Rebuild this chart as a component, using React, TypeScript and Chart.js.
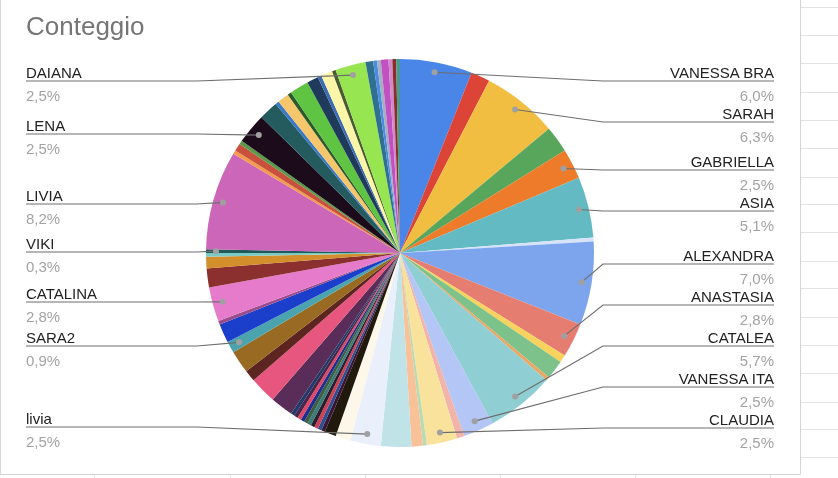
import React, { useEffect, useRef } from "react";
import { Chart, registerables } from "chart.js";

Chart.register(...registerables);

// ---- data ----
const TITLE = "Conteggio";

const NAMES = [
  "VANESSA BRA", "n2", "SARAH", "n4", "GABRIELLA", "ASIA", "n7", "ALEXANDRA", "ANASTASIA", "n10",
  "n11", "n12", "CATALEA", "VANESSA ITA", "n15", "CLAUDIA", "n17", "n18", "n19", "livia",
  "n21", "n22", "n23", "n24", "n25", "n26", "n27", "n28", "n29", "n30",
  "n31", "n32", "n33", "n34", "n35", "n36", "SARA2", "n38", "n39", "CATALINA",
  "n41", "n42", "n43", "VIKI", "LIVIA", "n46", "n47", "n48", "LENA", "n50",
  "n51", "n52", "n53", "n54", "n55", "n56", "n57", "n58", "DAIANA", "n60",
  "n61", "n62", "n63", "n64", "n65", "n66",
];

const COUNTS = [
  19, 5, 20, 7, 8, 16, 1, 22, 9, 2,
  5, 1, 18, 8, 2, 8, 1, 3, 8, 8,
  4, 3, 1, 1, 1, 1, 1, 1, 1, 1,
  1, 1, 6, 7, 3, 6, 3, 5, 1, 9,
  5, 3, 1, 1, 26, 1, 2, 1, 8, 5,
  1, 3, 1, 5, 3, 1, 3, 1, 8, 2,
  1, 1, 2, 1, 1, 1,
];

const COLORS = [
  "#4a86e8", "#db4437", "#f1be42", "#58a55c", "#ee7b2a", "#63bac3", "#d6e3f8", "#7da5ee", "#e57e70", "#f7d35e",
  "#7cc28a", "#e9a866", "#8fcfd3", "#b3c6f5", "#f2b3aa", "#f9e29c", "#b7dcb1", "#f8c198", "#bfe3e6", "#e9effb",
  "#fcf7e8", "#20190c", "#3b1736", "#2c4f90", "#cf4057", "#2b1c2e", "#3d7b78", "#3b5f3f", "#1d2f8e", "#e0486a",
  "#4a2349", "#203a6a", "#5a2c58", "#e6567e", "#5c2520", "#996b22", "#4ba3ae", "#1b3fcb", "#9b4c8c", "#e67bcc",
  "#8b302f", "#d28f2b", "#7ccac6", "#1f5959", "#cc66b9", "#f39b4c", "#c9503c", "#5a9a4a", "#1b0b1b", "#245b5f",
  "#3b79c9", "#f5c66b", "#2b5b2b", "#5fc441", "#1f3a5b", "#3b6bb1", "#fbf5a9", "#4b5b31", "#97e651", "#2f6f8f",
  "#4b8be1", "#a1b1c1", "#c151c1", "#d189c9", "#8b2b2b", "#4b9b8b",
];

// ---- layout of the labels (not data) ----
const LEFT_LABELS = ["DAIANA", "LENA", "LIVIA", "VIKI", "CATALINA", "SARA2", "livia"];
const LEFT_LINE_Y = [81, 134, 204, 252, 302, 346, 427];
const RIGHT_LABELS = ["VANESSA BRA", "SARAH", "GABRIELLA", "ASIA", "ALEXANDRA", "ANASTASIA", "CATALEA", "VANESSA ITA", "CLAUDIA"];
const RIGHT_LINE_Y = [81, 122, 170, 211, 264, 305, 346, 387, 428];

const W = 838;
const H = 478;
const LEFT_X = 26;
const RIGHT_X = 774;
const LEFT_ELBOW = 197;
const RIGHT_ELBOW = 603;

const GRID_ROWS = [7, 35, 63, 92, 120, 148, 177, 204, 232, 261, 288, 317, 345, 373, 402, 429, 457];
const GRID_COLS = [94, 230, 365, 500, 635, 770];

const TOTAL = COUNTS.reduce((a, b) => a + b, 0);
const pct = (name: string) => {
  const v = COUNTS[NAMES.indexOf(name)];
  return ((v / TOTAL) * 100).toFixed(1).replace(".", ",") + "%";
};

const bgPlugin = {
  id: "bgPlugin",
  beforeDraw(chart: any) {
    const ctx = chart.ctx;
    ctx.save();
    ctx.fillStyle = "#ffffff";
    ctx.fillRect(0, 0, W, H);
    ctx.strokeStyle = "#e2e2e2";
    ctx.lineWidth = 1;
    for (const y of GRID_ROWS) {
      ctx.beginPath();
      ctx.moveTo(800, y + 0.5);
      ctx.lineTo(W, y + 0.5);
      ctx.stroke();
    }
    for (const x of GRID_COLS) {
      ctx.beginPath();
      ctx.moveTo(x + 0.5, 474);
      ctx.lineTo(x + 0.5, H);
      ctx.stroke();
    }
    ctx.strokeStyle = "#d4d4d4";
    ctx.beginPath();
    ctx.moveTo(0.5, 0);
    ctx.lineTo(0.5, 474.5);
    ctx.lineTo(800.5, 474.5);
    ctx.lineTo(800.5, 0);
    ctx.stroke();
    ctx.restore();
  },
};

const leaderPlugin = {
  id: "leaderPlugin",
  afterDatasetsDraw(chart: any) {
    const ctx = chart.ctx;
    const meta = chart.getDatasetMeta(0);
    const draw = (name: string, lineY: number, right: boolean) => {
      const i = NAMES.indexOf(name);
      const arc = meta.data[i];
      const p = arc.getProps(["x", "y", "startAngle", "endAngle", "outerRadius"], true);
      const mid = (p.startAngle + p.endAngle) / 2;
      const r = p.outerRadius - 10;
      const dx = p.x + Math.cos(mid) * r;
      const dy = p.y + Math.sin(mid) * r;
      ctx.save();
      ctx.strokeStyle = "#6e6e6e";
      ctx.lineWidth = 1.2;
      ctx.beginPath();
      ctx.moveTo(dx, dy);
      if (right) {
        ctx.lineTo(RIGHT_ELBOW, lineY);
        ctx.lineTo(RIGHT_X, lineY);
      } else {
        ctx.lineTo(LEFT_ELBOW, lineY);
        ctx.lineTo(LEFT_X, lineY);
      }
      ctx.stroke();
      ctx.fillStyle = "#a0a0a0";
      ctx.beginPath();
      ctx.arc(dx, dy, 3, 0, Math.PI * 2);
      ctx.fill();
      ctx.restore();
    };
    LEFT_LABELS.forEach((n, k) => draw(n, LEFT_LINE_Y[k], false));
    RIGHT_LABELS.forEach((n, k) => draw(n, RIGHT_LINE_Y[k], true));
  },
};

const FONT = '"Liberation Sans", Arial, sans-serif';
// baseline offset for 15px text with line-height 15px
const BASE = 12.7;

export default function App() {
  const ref = useRef<HTMLCanvasElement | null>(null);

  useEffect(() => {
    document.body.style.margin = "0";
    if (!ref.current) return;
    const chart = new Chart(ref.current, {
      type: "pie",
      data: {
        labels: NAMES,
        datasets: [
          {
            data: COUNTS,
            backgroundColor: COLORS,
            borderWidth: 0,
          },
        ],
      },
      options: {
        responsive: false,
        animation: false,
        devicePixelRatio: 1,
        layout: { padding: { left: 206, right: 244, top: 59, bottom: 31 } },
        plugins: {
          legend: { display: false },
          tooltip: { enabled: false },
          title: { display: false },
        },
      },
      plugins: [bgPlugin, leaderPlugin],
    });
    return () => chart.destroy();
  }, []);

  const nameStyle = (lineY: number, right: boolean): React.CSSProperties => ({
    position: "absolute",
    top: lineY - 3 - BASE,
    ...(right ? { right: W - RIGHT_X, textAlign: "right" } : { left: LEFT_X }),
    font: `15px ${FONT}`,
    lineHeight: "15px",
    color: "#222222",
    whiteSpace: "nowrap",
  });
  const pctStyle = (lineY: number, right: boolean): React.CSSProperties => ({
    position: "absolute",
    top: lineY + 20 - BASE,
    ...(right ? { right: W - RIGHT_X, textAlign: "right" } : { left: LEFT_X }),
    font: `15px ${FONT}`,
    lineHeight: "15px",
    color: "#a3a3a3",
    whiteSpace: "nowrap",
  });

  return (
    <div style={{ position: "relative", width: W, height: H, overflow: "hidden", background: "#fff" }}>
      <canvas ref={ref} width={W} height={H} style={{ display: "block", width: W, height: H }} />
      <div
        style={{
          position: "absolute",
          left: LEFT_X,
          top: 13,
          font: `26px ${FONT}`,
          lineHeight: "26px",
          color: "#757575",
          whiteSpace: "nowrap",
        }}
      >
        {TITLE}
      </div>
      {LEFT_LABELS.map((n, k) => (
        <React.Fragment key={"l" + n}>
          <div style={nameStyle(LEFT_LINE_Y[k], false)}>{n}</div>
          <div style={pctStyle(LEFT_LINE_Y[k], false)}>{pct(n)}</div>
        </React.Fragment>
      ))}
      {RIGHT_LABELS.map((n, k) => (
        <React.Fragment key={"r" + n}>
          <div style={nameStyle(RIGHT_LINE_Y[k], true)}>{n}</div>
          <div style={pctStyle(RIGHT_LINE_Y[k], true)}>{pct(n)}</div>
        </React.Fragment>
      ))}
    </div>
  );
}
